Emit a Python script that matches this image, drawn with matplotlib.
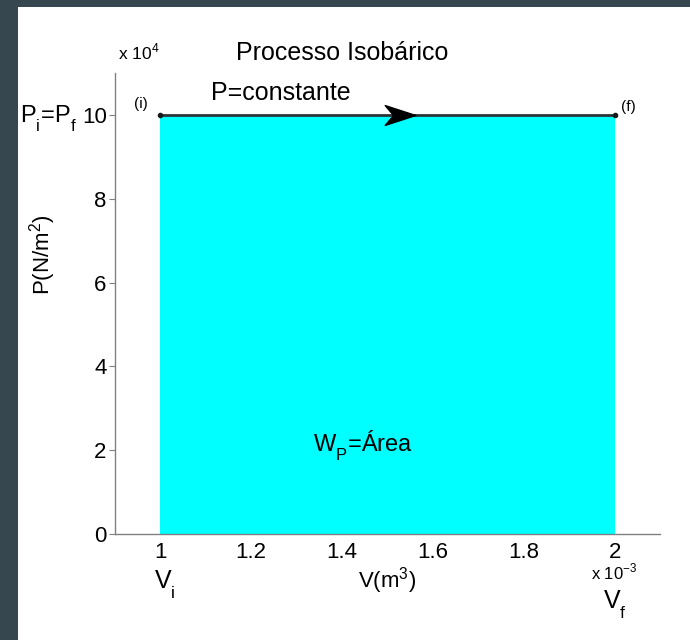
import numpy as np
import matplotlib
matplotlib.use('Agg')
import matplotlib.pyplot as plt
import matplotlib._mathtext as mt
from matplotlib.path import Path
from matplotlib.patches import Rectangle
from matplotlib.ticker import FuncFormatter

plt.rcParams['font.family'] = ['Liberation Sans', 'DejaVu Sans']
plt.rcParams['mathtext.fontset'] = 'custom'
plt.rcParams['mathtext.rm'] = 'Liberation Sans'
# MATLAB-like deeper subscripts
mt.FontConstantsBase.sub1 = 0.75
mt.FontConstantsBase.sub2 = 0.9

# isobaric process: state (i) -> state (f)
V = [1e-3, 2e-3]          # m^3
P = [1e5, 1e5]            # N/m^2
v_scale = 1e-3
p_scale = 1e4
x_ticks = [1, 1.2, 1.4, 1.6, 1.8, 2]
y_ticks = [0, 2, 4, 6, 8, 10]

v = np.array(V) / v_scale
p = np.array(P) / p_scale

fig = plt.figure(figsize=(6.9, 6.4), dpi=100, facecolor='#37474f')
# white page with dark border on left / top
page = Rectangle((18/690, 0), 1, 1 - 7/640, transform=fig.transFigure,
                 facecolor='white', edgecolor='none', zorder=-10)
fig.add_artist(page)
ax = fig.add_axes([115/690, 1 - 534/640, 545/690, 461/640])
ax.set_facecolor('none')

ax.fill_between(v, 0, p, color='#00ffff', linewidth=0, zorder=1)
ax.plot(v, p, color='#2b3438', linewidth=2, zorder=3)
ax.plot(v, p, 'o', color='#1a1a1a', markersize=3, zorder=4)

# arrow head in the middle of the path
arrow = Path([(-1, 0.65), (1, 0), (-1, -0.65), (-0.45, 0), (-1, 0.65)],
             [Path.MOVETO, Path.LINETO, Path.LINETO, Path.LINETO, Path.CLOSEPOLY])
xm = v[0] + 0.528 * (v[1] - v[0])
ax.plot([xm], [p[0]], marker=arrow, markersize=22, color='black', zorder=5)

ax.set_xlim(0.9, 2.1)
ax.set_ylim(0, 11)
ax.set_xticks(x_ticks)
ax.set_yticks(y_ticks)
fmt = FuncFormatter(lambda val, pos: '%g' % val)
ax.xaxis.set_major_formatter(fmt)
ax.yaxis.set_major_formatter(fmt)
for s in ['top', 'right']:
    ax.spines[s].set_visible(False)
for s in ['left', 'bottom']:
    ax.spines[s].set_color('#808080')
    ax.spines[s].set_linewidth(1)
ax.tick_params(axis='y', direction='out', length=4, color='#808080', labelsize=16, pad=2)
ax.tick_params(axis='x', length=0, labelsize=16, pad=6)

ax.set_xlabel(r'V(m$^\mathregular{3}$)', fontsize=16, labelpad=1)
ax.set_ylabel(r'P(N/m$^\mathregular{2}$)', fontsize=16)
ax.yaxis.set_label_coords(-0.105, 0.605)

kw = dict(clip_on=False, zorder=6)
ax.text(1.40, 11.48, 'Processo Isobárico', fontsize=18, ha='center', va='center', **kw)
ax.text(1.265, 10.52, 'P=constante', fontsize=18, ha='center', va='center', **kw)
ax.text(1.447, 2.1, r'$\mathregular{W_P}$=Área', fontsize=17, ha='center', va='center', **kw)
ax.text(v[0] - 0.042, p[0] + 0.25, '(i)', fontsize=11, ha='center', va='center', **kw)
ax.text(v[1] + 0.03, p[0] + 0.2, '(f)', fontsize=11, ha='center', va='center', **kw)
ax.text(0.815, p[0] - 0.1, r'$\mathregular{P_i}$=$\mathregular{P_f}$', fontsize=17,
        ha='right', va='center', **kw)
ax.text(v[0] + 0.01, -1.2, r'$\mathregular{V_i}$', fontsize=18, ha='center', va='center', **kw)
ax.text(v[1] + 0.0, -1.7, r'$\mathregular{V_f}$', fontsize=18, ha='center', va='center', **kw)
ax.text(v[1] + 0.0, -0.92, r'x 10$^\mathregular{-3}$', fontsize=12, ha='center', va='center', **kw)
ax.text(0.953, 11.5, r'x 10$^\mathregular{4}$', fontsize=12.5, ha='center', va='center', **kw)

fig.savefig('out.png', dpi=100, facecolor=fig.get_facecolor())
